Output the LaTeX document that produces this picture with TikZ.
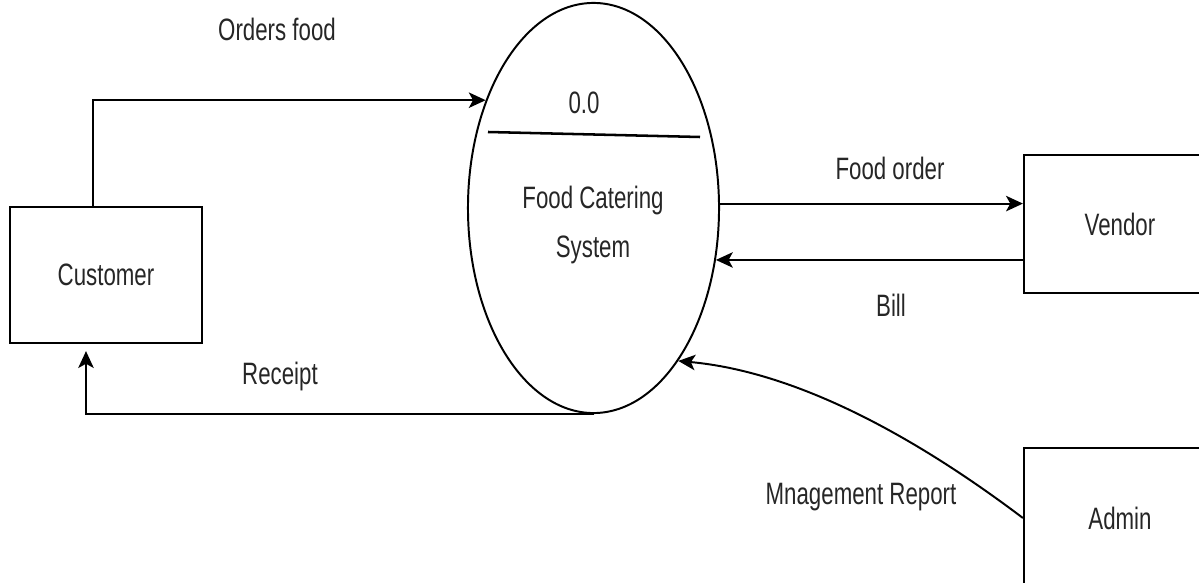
\documentclass[tikz,border=0pt]{standalone}
\usepackage{fontspec}
\setmainfont{Liberation Sans}[FakeStretch=0.72]
\usetikzlibrary{arrows.meta,shapes.geometric}
\begin{document}
\begin{tikzpicture}[x=0.025cm,y=-0.025cm,font=\fontsize{22}{26}\selectfont,
  extbox/.style={draw,line width=1.5pt,minimum width=4.8cm,inner sep=0pt,text=black!85},
  flow/.style={draw,line width=1.4pt,-{Stealth[length=12pt,width=11pt,inset=3pt]}},
  flowlabel/.style={text=black!85,inner sep=0pt}]
  \useasboundingbox (0,0) rectangle (1199,583);
  % entities and the process
  \node[extbox,minimum height=3.4cm] (Customer) at (106,275) {Customer};
  \node[extbox,minimum height=3.45cm] (Vendor) at (1120,224) {Vendor};
  \node[extbox,minimum height=3.5cm] (Admin) at (1120,518) {Admin};
  \node[ellipse,draw,line width=1.4pt,minimum width=6.275cm,minimum height=10.25cm,inner sep=0pt] (FCS) at (593.5,208) {};
  \draw[line width=1.8pt] (488,132) -- (700,137);
  \node[flowlabel] (procid) at (584,103) {0.0};
  \node[flowlabel,align=center,font=\fontsize{22}{35}\selectfont] (procname) at (593,225) {Food Catering\\System};
  % data flows
  \draw[flow] ([xshift=-0.325cm]Customer.north) |- (FCS.135);
  \draw[flow] (FCS.2) -- (FCS.2 -| Vendor.west);
  \draw[flow] (Vendor.west |- FCS.-23) -- (FCS.-23);
  \draw[flow,shorten >=5pt] (FCS.south) -| ([xshift=-0.5cm]Customer.south);
  \draw[flow] (Admin.west) .. controls (909,432) and (793,371.5) .. (FCS.-61);
  % flow labels
  \node[flowlabel] (ordlabel) at (277,29) {Orders food};
  \node[flowlabel] (folabel) at (890,168) {Food order};
  \node[flowlabel] (billlabel) at (891,305) {Bill};
  \node[flowlabel] (reclabel) at (280,377) {Receipt};
  \node[flowlabel] (mgmtlabel) at (861,497) {Mnagement Report};
\end{tikzpicture}
\end{document}
